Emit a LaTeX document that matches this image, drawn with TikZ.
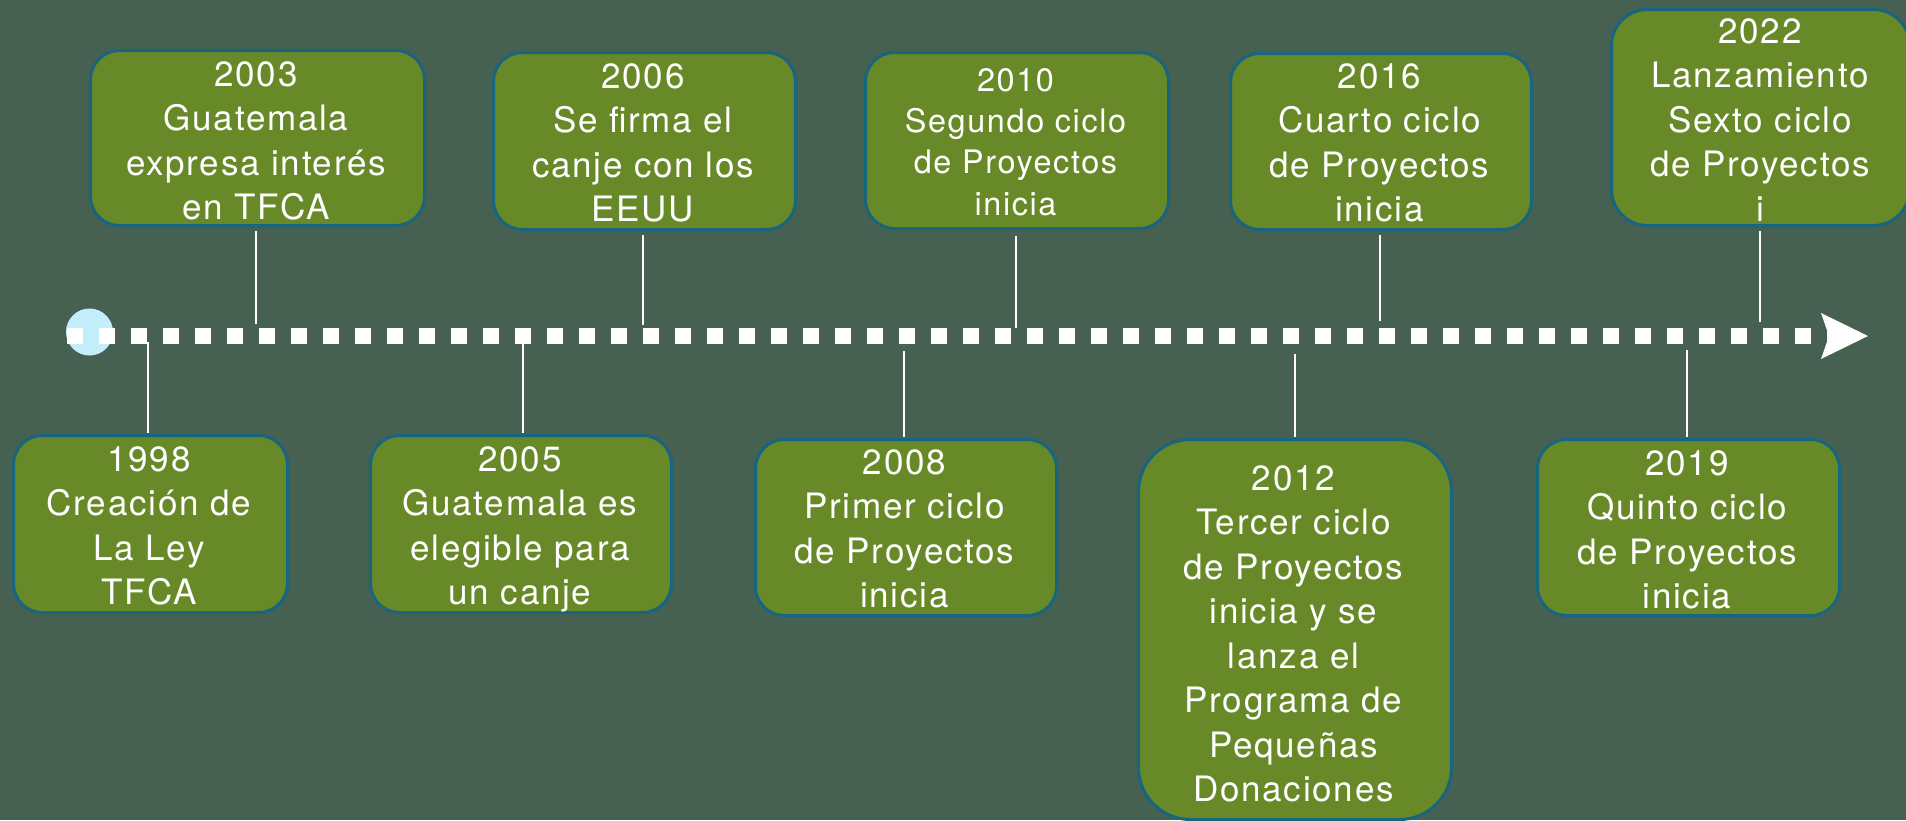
\documentclass[tikz,border=0pt]{standalone}
\usepackage{fontspec}
\setmainfont{TeX Gyre Heros}[LetterSpace=5]
\definecolor{bgcol}{HTML}{466051}
\definecolor{boxfill}{HTML}{688927}
\definecolor{boxline}{HTML}{17657F}
\definecolor{startcol}{HTML}{C5EEFC}
\newcommand\evfont{\fontsize{35}{44.5}\selectfont}
\newcommand\evsmallfont{\fontsize{32.4}{41.3}\selectfont}
\tikzset{
  evbox/.style={draw=boxline, line width=3pt, fill=boxfill, rounded corners=29pt, inner sep=0pt, anchor=north west},
  evtext/.style={text=white, align=center, inner sep=0pt, anchor=north, font=\evfont},
  conn/.style={draw=white, line width=2pt},
  conntop/.style={conn, shorten >=4pt},
  connbot/.style={conn, shorten >=1.5pt},
}
\begin{document}
\begin{tikzpicture}[x=1pt,y=-1pt]
\useasboundingbox (0,0) rectangle (1906,820);
\fill[bgcol] (0,0) rectangle (1906,820);

% start marker and timeline
\node[circle, fill=startcol, minimum size=47pt, inner sep=0pt] (start) at (89.5,332) {};
\coordinate (tlstart) at (67,336);
\coordinate (tlend) at (1843,336);
\draw[white, line width=16pt, dash pattern=on 16pt off 16pt] (tlstart) -- (tlend);
\fill[white] (tlend) ++(-22,-23) -- ++(47,23) -- ++(-47,23) -- ++(8,-23) -- cycle;

% top boxes
\node[evbox, minimum width=334pt, minimum height=175pt] (b2003) at (89,49) {};
\node[evtext] (x2003) at (256,61.4) {2003\\Guatemala\\expresa interés\\en TFCA};
\node[evbox, minimum width=302pt, minimum height=177pt] (b2006) at (492,51) {};
\node[evtext] (x2006) at (643,63.4) {2006\\Se firma el\\canje con los\\EEUU};
\node[evbox, minimum width=303pt, minimum height=176pt] (b2010) at (864,51) {};
\node[evtext, font=\evsmallfont] (x2010) at (1015.5,68.2) {2010\\Segundo ciclo\\de Proyectos\\inicia};
\node[evbox, minimum width=301pt, minimum height=176pt] (b2016) at (1229,52) {};
\node[evtext] (x2016) at (1379.5,63.4) {2016\\Cuarto ciclo\\de Proyectos\\inicia};
\node[evbox, rounded corners=36pt, minimum width=298pt, minimum height=216pt] (b2022) at (1610,8) {};
\node[evtext] (x2022) at (1760,18.4) {2022\\Lanzamiento\\Sexto ciclo\\de Proyectos\\i};

% bottom boxes
\node[evbox, minimum width=274pt, minimum height=177pt] (b1998) at (12,434) {};
\node[evtext] (x1998) at (149,446.4) {1998\\Creación de\\La Ley\\TFCA};
\node[evbox, minimum width=301pt, minimum height=177pt] (b2005) at (369,434) {};
\node[evtext] (x2005) at (520,446.4) {2005\\Guatemala es\\elegible para\\un canje};
\node[evbox, minimum width=301pt, minimum height=176pt] (b2008) at (754,438) {};
\node[evtext] (x2008) at (904.5,449.4) {2008\\Primer ciclo\\de Proyectos\\inicia};
\node[evbox, rounded corners=52pt, minimum width=313pt, minimum height=380pt] (b2012) at (1137,438) {};
\node[evtext] (x2012) at (1293.5,465.4) {2012\\Tercer ciclo\\de Proyectos\\inicia y se\\lanza el\\Programa de\\Pequeñas\\Donaciones};
\node[evbox, minimum width=302pt, minimum height=176pt] (b2019) at (1536,438) {};
\node[evtext] (x2019) at (1687,450.4) {2019\\Quinto ciclo\\de Proyectos\\inicia};

% connector anchors on the timeline
\coordinate (c2003) at (256,324);
\coordinate (c2006) at (643,325);
\coordinate (c2010) at (1016,328);
\coordinate (c2016) at (1380,321);
\coordinate (c2022) at (1760,322);
\coordinate (c1998) at (148,342);
\coordinate (c2005) at (523,342);
\coordinate (c2008) at (904,351);
\coordinate (c2012) at (1295,354);
\coordinate (c2019) at (1687,350);

\draw[conntop] (c2003) -- (b2003.south -| c2003);
\draw[conntop] (c2006) -- (b2006.south -| c2006);
\draw[conntop, shorten >=6pt] (c2010) -- (b2010.south -| c2010);
\draw[conntop] (c2016) -- (b2016.south -| c2016);
\draw[conntop] (c2022) -- (b2022.south -| c2022);
\draw[connbot] (c1998) -- (b1998.north -| c1998);
\draw[connbot] (c2005) -- (b2005.north -| c2005);
\draw[connbot] (c2008) -- (b2008.north -| c2008);
\draw[connbot] (c2012) -- (b2012.north -| c2012);
\draw[connbot] (c2019) -- (b2019.north -| c2019);
\end{tikzpicture}
\end{document}
